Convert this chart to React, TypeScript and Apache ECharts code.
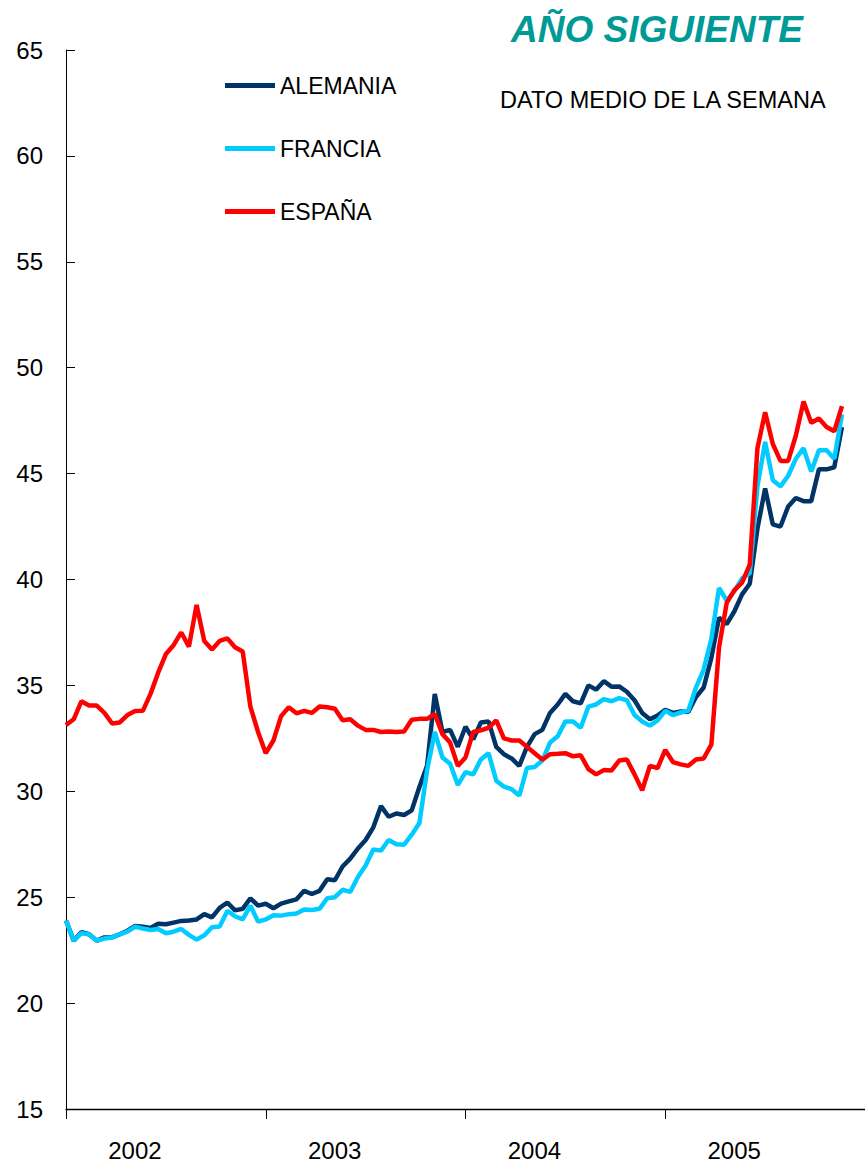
import React, { useEffect, useRef } from "react";
import * as echarts from "echarts";

const YEARS = ["2002", "2003", "2004", "2005"];

// Weekly averages sampled every two weeks from the first week of 2002
const ALEMANIA = [
  23.9, 22.95, 23.35, 23.25, 22.95, 23.1, 23.1, 23.25, 23.42, 23.64,
  23.6, 23.55, 23.75, 23.72, 23.8, 23.88, 23.9, 23.95, 24.2, 24.05,
  24.5, 24.75, 24.38, 24.45, 24.95, 24.6, 24.69, 24.48, 24.7, 24.8,
  24.9, 25.3, 25.15, 25.3, 25.85, 25.8, 26.45, 26.82, 27.3, 27.7,
  28.3, 29.3, 28.8, 28.95, 28.88, 29.1, 30.2, 31.2, 34.6, 32.8,
  32.9, 32.1, 33.05, 32.45, 33.25, 33.3, 32.1, 31.75, 31.55, 31.2,
  32.1, 32.7, 32.9, 33.7, 34.1, 34.6, 34.25, 34.15, 35.0, 34.8,
  35.2, 34.94, 34.95, 34.7, 34.3, 33.7, 33.4, 33.58, 33.85, 33.7,
  33.77, 33.75, 34.45, 34.9, 36.3, 38.2, 37.9, 38.5, 39.3, 39.8,
  42.4, 44.3, 42.6, 42.5, 43.45, 43.85, 43.7, 43.7, 45.2, 45.2,
  45.3, 47.2,
];

const FRANCIA = [
  23.9, 22.95, 23.3, 23.25, 22.95, 23.05, 23.1, 23.25, 23.37, 23.61,
  23.52, 23.45, 23.5, 23.3, 23.37, 23.5, 23.22, 23.0, 23.2, 23.58,
  23.62, 24.35, 24.1, 23.95, 24.6, 23.85, 23.95, 24.15, 24.13, 24.2,
  24.23, 24.42, 24.4, 24.45, 24.95, 25.0, 25.35, 25.25, 25.95, 26.5,
  27.25, 27.2, 27.7, 27.5, 27.48, 27.95, 28.5, 31.0, 32.8, 31.6,
  31.3, 30.3, 30.9, 30.8, 31.5, 31.8, 30.5, 30.22, 30.1, 29.8,
  31.1, 31.15, 31.45, 32.3, 32.6, 33.3, 33.3, 33.0, 34.0, 34.1,
  34.35, 34.25, 34.4, 34.3, 33.6, 33.3, 33.1, 33.35, 33.8, 33.6,
  33.72, 33.8, 34.9, 35.75, 37.2, 39.6, 39.0, 39.45, 40.05, 40.3,
  44.4, 46.5, 44.69, 44.4, 44.9, 45.7, 46.2, 45.1, 46.1, 46.1,
  45.7, 47.8,
];

const ESPANA = [
  33.13, 33.4, 34.25, 34.05, 34.05, 33.7, 33.2, 33.25, 33.6, 33.79,
  33.8, 34.6, 35.6, 36.48, 36.9, 37.5, 36.83, 38.8, 37.1, 36.7,
  37.1, 37.22, 36.8, 36.6, 34.0, 32.8, 31.8, 32.4, 33.55, 33.97,
  33.68, 33.8, 33.7, 34.0, 33.97, 33.9, 33.35, 33.4, 33.1, 32.9,
  32.9, 32.8, 32.82, 32.8, 32.82, 33.38, 33.42, 33.42, 33.65, 32.7,
  32.3, 31.2, 31.6, 32.8, 32.88, 33.0, 33.35, 32.5, 32.4, 32.4,
  32.1, 31.8, 31.5, 31.75, 31.77, 31.8, 31.65, 31.7, 31.05, 30.8,
  31.0, 30.98, 31.45, 31.5, 30.8, 30.05, 31.2, 31.1, 31.95, 31.38,
  31.27, 31.2, 31.5, 31.55, 32.2, 36.8, 38.9, 39.5, 39.85, 40.7,
  46.2, 47.9, 46.4, 45.6, 45.6, 46.8, 48.4, 47.4, 47.6, 47.2,
  47.0, 48.19,
];

const WEEK_OF_SAMPLE = ALEMANIA.map((_, i) => i * 2);

const FONT = "'Liberation Sans', Arial, sans-serif";

export default function App() {
  const ref = useRef<HTMLDivElement>(null);

  useEffect(() => {
    if (!ref.current) return;
    const chart = echarts.init(ref.current, undefined, { renderer: "svg" });
    const pair = (vals: number[]) => vals.map((v, i) => [WEEK_OF_SAMPLE[i], v]);

    chart.setOption({
      animation: false,
      backgroundColor: "#ffffff",
      textStyle: { fontFamily: FONT },
      title: [
        {
          text: "AÑO SIGUIENTE",
          left: 511,
          top: 11,
          padding: 0,
          textStyle: {
            fontFamily: FONT,
            fontSize: 37,
            fontWeight: "bold",
            fontStyle: "italic",
            color: "#009a96",
          },
        },
        {
          text: "DATO MEDIO DE LA SEMANA",
          left: 500,
          top: 88,
          padding: 0,
          textStyle: {
            fontFamily: FONT,
            fontSize: 23.5,
            fontWeight: "normal",
            color: "#000000",
          },
        },
      ],
      legend: {
        orient: "vertical",
        left: 225,
        top: 74,
        padding: 0,
        icon: "rect",
        itemWidth: 50,
        itemHeight: 5,
        itemGap: 40,
        textStyle: { fontFamily: FONT, fontSize: 23, color: "#000", lineHeight: 22 },
        data: ["ALEMANIA", "FRANCIA", "ESPAÑA"],
      },
      grid: { left: 66, right: 0, top: 50, bottom: 54 },
      xAxis: [
        {
          type: "value",
          min: 0,
          max: 208,
          show: false,
        },
        {
          type: "category",
          data: YEARS,
          position: "bottom",
          boundaryGap: true,
          axisLine: { show: true, lineStyle: { color: "#000", width: 1.3 } },
          axisTick: { show: true, inside: false, length: 10, lineStyle: { color: "#000" } },
          axisLabel: {
            fontFamily: FONT,
            fontSize: 24,
            color: "#000",
            margin: 29,
            padding: [0, 62, 0, 0],
          },
          splitLine: { show: false },
        },
      ],
      yAxis: {
        type: "value",
        min: 15,
        max: 65,
        interval: 5,
        axisLine: { show: true, lineStyle: { color: "#000", width: 1 } },
        axisTick: { show: true, inside: true, length: 9, lineStyle: { color: "#000" } },
        axisLabel: { fontFamily: FONT, fontSize: 24, color: "#000", margin: 23 },
        splitLine: { show: false },
      },
      series: [
        {
          name: "ALEMANIA",
          type: "line",
          xAxisIndex: 0,
          data: pair(ALEMANIA),
          showSymbol: false,
          symbol: "none",
          lineStyle: { color: "#003366", width: 4.5 },
          itemStyle: { color: "#003366" },
        },
        {
          name: "FRANCIA",
          type: "line",
          xAxisIndex: 0,
          data: pair(FRANCIA),
          showSymbol: false,
          symbol: "none",
          lineStyle: { color: "#00ccff", width: 4.5 },
          itemStyle: { color: "#00ccff" },
        },
        {
          name: "ESPAÑA",
          type: "line",
          xAxisIndex: 0,
          data: pair(ESPANA),
          showSymbol: false,
          symbol: "none",
          lineStyle: { color: "#ff0000", width: 4.5 },
          itemStyle: { color: "#ff0000" },
        },
      ],
    });

    return () => chart.dispose();
  }, []);

  return (
    <div
      ref={ref}
      style={{ position: "fixed", left: 0, top: 0, width: 865, height: 1163, background: "#fff" }}
    />
  );
}
